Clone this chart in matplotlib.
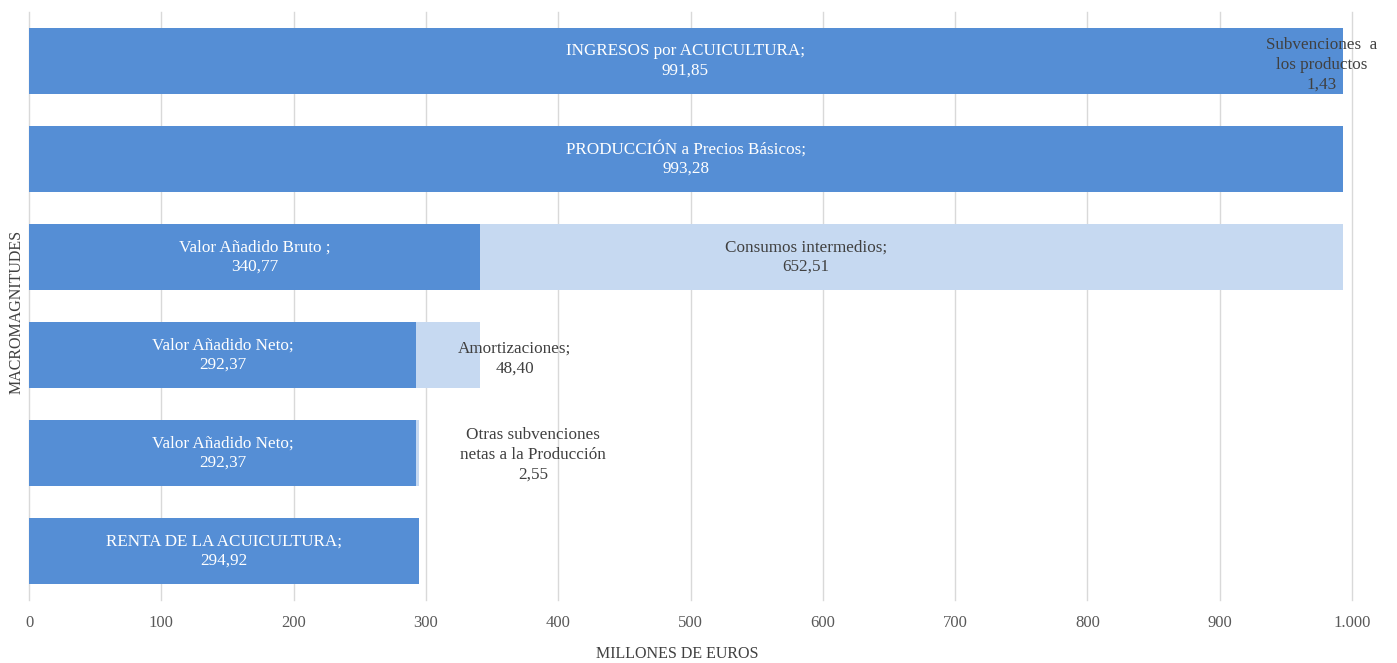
import numpy as np
import matplotlib.pyplot as plt

plt.rcParams['font.family'] = ['Liberation Serif', 'DejaVu Serif']

# filas de arriba a abajo
filas = ['Ingresos', 'Produccion', 'VAB', 'VAN', 'VAN2', 'Renta']
valor_base = [991.85, 993.28, 340.77, 292.37, 292.37, 294.92]
valor_extra = [1.43, 0.0, 652.51, 48.40, 2.55, 0.0]
etiq_base = ['INGRESOS por ACUICULTURA;', 'PRODUCCIÓN a Precios Básicos;',
             'Valor Añadido Bruto ;', 'Valor Añadido Neto;', 'Valor Añadido Neto;',
             'RENTA DE LA ACUICULTURA;']
etiq_extra = ['Subvenciones  a\nlos productos\n1,43', '', 'Consumos intermedios;\n652,51',
              'Amortizaciones;\n48,40', 'Otras subvenciones\nnetas a la Producción\n2,55', '']
# posicion x de las etiquetas de la serie clara (millones)
pos_extra = [977, 0, 587, 367, 381, 0]
dy_extra = [0.04, 0, 0, 0.04, 0.02, 0]

x_ticks = [0, 100, 200, 300, 400, 500, 600, 700, 800, 900, 1000]
x_ticklabels = ['0', '100', '200', '300', '400', '500', '600', '700', '800', '900', '1.000']

oscuro = '#558ED5'
claro = '#C6D9F1'

fig = plt.figure(figsize=(13.97, 6.63), dpi=100)
ax = fig.add_axes([0.0208, 0.095, 0.9470, 0.887])

y = np.arange(len(filas))
ax.barh(y, valor_base, height=0.67, color=oscuro, zorder=2)
ax.barh(y, valor_extra, left=valor_base, height=0.67, color=claro, zorder=2)
# la subvencion a los productos va en azul oscuro como el resto de la barra
ax.barh(y[0], valor_extra[0], left=valor_base[0], height=0.67, color=oscuro, zorder=2)

def fmt(v):
    return f'{v:.2f}'.replace('.', ',')

for i in range(len(filas)):
    ax.text(valor_base[i] / 2, y[i], etiq_base[i] + '\n' + fmt(valor_base[i]),
            ha='center', va='center', color='white', fontsize=12.3, linespacing=1.25, zorder=3)
    if etiq_extra[i]:
        ax.text(pos_extra[i], y[i] + dy_extra[i], etiq_extra[i], ha='center', va='center',
                color='#404040', fontsize=12.3, linespacing=1.3, zorder=3)

ax.set_ylim(len(filas) - 0.5, -0.5)
ax.set_xlim(0, 1000)
ax.set_yticks([])
ax.set_xticks(x_ticks)
ax.set_xticklabels(x_ticklabels, color='#595959', fontsize=12)
ax.tick_params(axis='x', length=0, pad=11)
ax.grid(axis='x', color='#D9D9D9', linewidth=1, zorder=0)
for gl in ax.get_xgridlines():
    gl.set_clip_on(False)
for s in ax.spines.values():
    s.set_visible(False)

ax.set_ylabel('MACROMAGNITUDES', color='#404040', fontsize=11.5)
ax.yaxis.set_label_coords(-0.003, 0.49)
ax.set_xlabel('MILLONES DE EUROS', color='#404040', fontsize=11.5)
ax.xaxis.set_label_coords(0.49, -0.078)

fig.savefig('out.png', dpi=100)
